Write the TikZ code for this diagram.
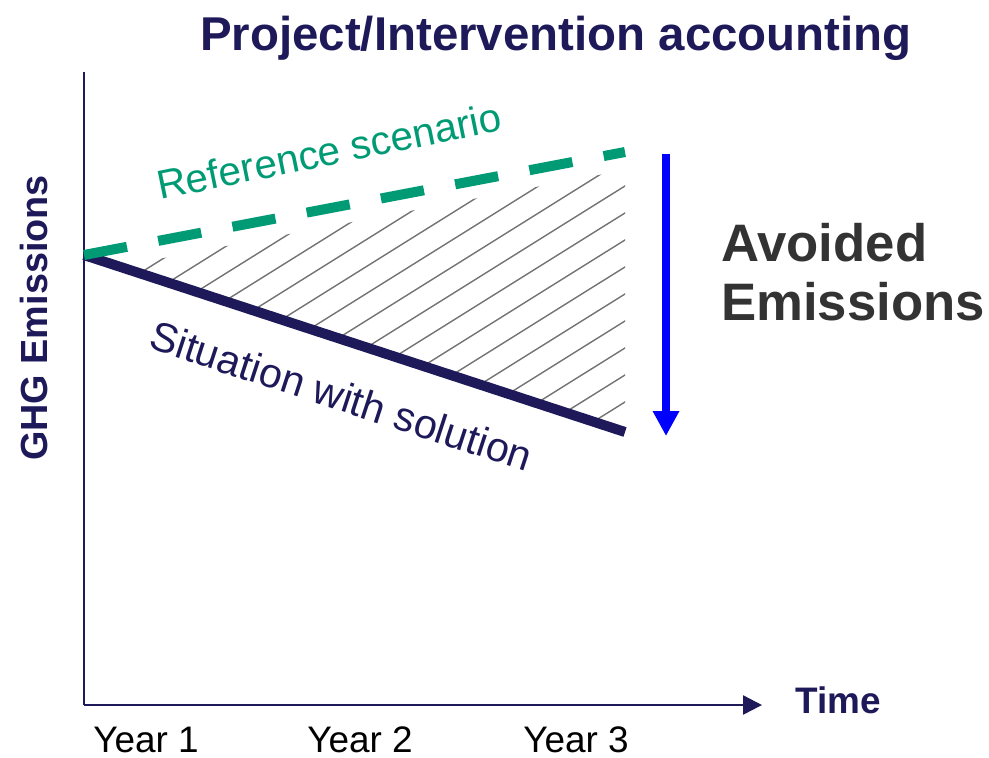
\documentclass[tikz,border=0pt]{standalone}
\usepackage{fontspec}
\setmainfont{Liberation Sans}
\usetikzlibrary{arrows.meta}
\definecolor{navy}{HTML}{1E1A5A}
\definecolor{refgreen}{HTML}{009B74}
\definecolor{avoidgray}{HTML}{333333}
\newcommand{\yrfont}{\fontsize{21pt}{25pt}\selectfont}
\newcommand{\bigbold}{\fontsize{30pt}{34pt}\selectfont\bfseries}

\begin{document}
\begin{tikzpicture}[x=0.2mm,y=-0.2mm,
    axisline/.style={navy,line width=1.4pt},
    hatchline/.style={black!55,line width=0.8pt},
    yearlabel/.style={anchor=base,inner sep=0pt,font=\yrfont}]
  \useasboundingbox (0,0) rectangle (989,757);

  % Title
  \node[anchor=base,navy,font=\fontsize{27pt}{32pt}\selectfont\bfseries] (title) at (556,50) {Project/Intervention accounting};

  % Axes
  \coordinate (origin) at (84,705);
  \coordinate (ytop) at (84,72);
  \coordinate (xend) at (762,705);
  \draw[axisline] (ytop) -- (origin);
  \draw[axisline,-{Triangle[length=3.8mm,width=3.8mm]}] (origin) -- (xend);
  \node[navy,rotate=90,anchor=base,font=\fontsize{21.5pt}{25pt}\selectfont\bfseries] (ylabel) at (47,318) {GHG Emissions};
  \node[navy,anchor=base west,font=\fontsize{21pt}{25pt}\selectfont\bfseries] (time) at (789,713) {Time};
  \node[yearlabel] (year1) at (146,752) {Year 1};
  \node[yearlabel] (year2) at (360,752) {Year 2};
  \node[yearlabel] (year3) at (576,752) {Year 3};

  % Scenarios
  \coordinate (start) at (84,255);
  \coordinate (refend) at (625,152);
  \coordinate (solend) at (625,432);

  % Hatched gap
  \begin{scope}
    \clip (119,266.5) -- (625,170) -- (solend) -- cycle;
    \foreach \i in {0,...,18}
      \draw[hatchline] (60,{755-27*\i}) -- (640,{392.6-27*\i});
  \end{scope}

  \draw[navy,line width=5.7pt] (start) -- (solend);
  \draw[refgreen,line width=5.7pt,dash pattern=on 24.9pt off 18.1pt] (start) -- (refend);
  \node[refgreen,rotate=11.5,anchor=base,font=\fontsize{23pt}{28pt}\selectfont] (reflabel) at (332,165) {Reference scenario};
  \node[navy,rotate=-18.1,anchor=base,font=\fontsize{23.5pt}{28pt}\selectfont] (sollabel) at (337,410) {Situation with solution};

  % Avoided emissions
  \coordinate (avtop) at (666,154);
  \coordinate (avbot) at (666,436);
  \draw[blue,line width=5pt,-{Triangle[length=5mm,width=5mm]}] (avtop) -- (avbot);
  \node[avoidgray,anchor=base west,font=\bigbold] (avoided) at (715,261) {Avoided};
  \node[avoidgray,anchor=base west,font=\bigbold] (emissions) at (715,320) {Emissions};
\end{tikzpicture}
\end{document}
